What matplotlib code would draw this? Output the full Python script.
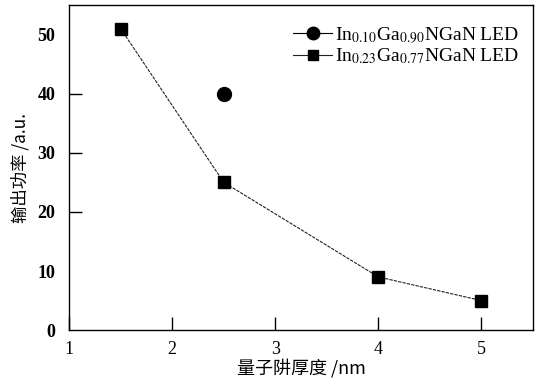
import matplotlib
matplotlib.use("Agg")
import matplotlib.pyplot as plt

# Data
thickness_sq = [1.5, 2.5, 4, 5]
power_sq = [51, 25, 9, 5]
thickness_circ = [2.5]
power_circ = [40]
label_circ = r'In$_{0.10}$Ga$_{0.90}$NGaN LED'
label_sq = r'In$_{0.23}$Ga$_{0.77}$NGaN LED'
xlabel = '量子阱厚度 /nm'
ylabel = '输出功率 /a.u.'
xticks = [1, 2, 3, 4, 5]
yticks = [0, 10, 20, 30, 40, 50]

plt.rcParams['font.family'] = ['Liberation Serif', 'Noto Sans CJK SC']
plt.rcParams['mathtext.fontset'] = 'stix'

fig = plt.figure(figsize=(5.4, 3.83), dpi=100)
ax = fig.add_axes([0.128, 0.138, 0.859, 0.849])

ax.plot(thickness_circ, power_circ, color='black', marker='o', markersize=10,
        linestyle='-', linewidth=0.8, label=label_circ)
ax.plot(thickness_sq, power_sq, color='#222222', marker='s', markersize=8.5,
        markerfacecolor='black', markeredgecolor='black',
        linestyle=(0, (3, 1)), linewidth=0.8, label=label_sq)

ax.set_xlim(1, 5.5)
ax.set_ylim(0, 55)
ax.set_xticks(xticks)
ax.set_yticks(yticks)
ax.tick_params(direction='in', length=9.5, width=1, top=False, right=False)
ax.tick_params(axis='x', labelsize=13, pad=8)
ax.tick_params(axis='y', labelsize=13, pad=10)
for lab in ax.get_yticklabels():
    lab.set_fontweight('bold')
# tick marks visible only at 20, 30, 40 on the y axis (as in the original)
for t, v in zip(ax.yaxis.get_major_ticks(), yticks):
    if v not in (20, 30, 40):
        t.tick1line.set_visible(False)
for s in ax.spines.values():
    s.set_linewidth(1)

ax.set_xlabel(xlabel, fontsize=13, family=['Noto Sans CJK SC', 'Liberation Serif'], labelpad=0)
ax.set_ylabel(ylabel, fontsize=12.5, family=['Noto Sans CJK SC', 'Liberation Serif'], labelpad=6)

leg = ax.legend(loc='upper right', frameon=False, fontsize=14,
                handlelength=2.0, handletextpad=0.15, labelspacing=0.05,
                bbox_to_anchor=(0.987, 0.962), borderaxespad=0)
leg.legend_handles[0].set_markersize(9)
leg.legend_handles[1].set_markersize(6.5)
leg.legend_handles[1].set_linestyle('-')

fig.savefig('out.png', dpi=100)
